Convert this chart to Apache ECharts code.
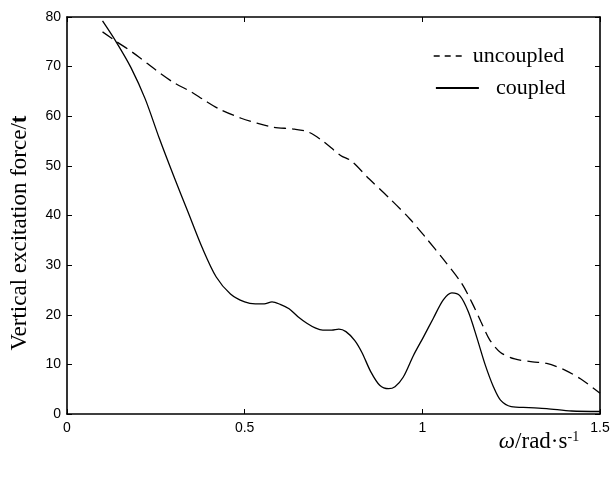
<!DOCTYPE html>
<html>
<head>
<meta charset="utf-8">
<script src="https://cdn.jsdelivr.net/npm/echarts@6/dist/echarts.min.js"></script>
<style>
html,body{margin:0;padding:0;background:#fff;}
#c{width:613px;height:477px;}
</style>
</head>
<body>
<div id="c"></div>
<script>
var xTicks = [0, 0.5, 1, 1.5];
var yTicks = [0, 10, 20, 30, 40, 50, 60, 70, 80];

var uncoupledX = [0.10,0.14,0.17,0.205,0.25,0.30,0.35,0.385,0.43,0.49,0.535,0.58,0.64,0.68,0.72,0.77,0.80,0.85,0.91,0.965,1.01,1.06,1.11,1.14,1.165,1.19,1.22,1.26,1.31,1.35,1.40,1.445,1.5];
var uncoupledY = [77,75,73.6,71.8,69.3,66.8,64.9,63.3,61.4,59.6,58.6,57.8,57.4,56.8,55,52.1,51,47.4,43.3,39.3,35.5,31.1,26.4,22.4,18.6,14.9,12.4,11.1,10.5,10.2,8.9,7.1,4.2];

var coupledX = [0.10,0.14,0.18,0.22,0.26,0.30,0.34,0.38,0.42,0.46,0.50,0.53,0.555,0.577,0.60,0.625,0.65,0.675,0.70,0.72,0.745,0.765,0.785,0.81,0.83,0.855,0.88,0.905,0.923,0.946,0.975,1.003,1.031,1.059,1.083,1.106,1.13,1.153,1.177,1.2,1.22,1.25,1.3,1.35,1.42,1.5];
var coupledY = [79.2,74.8,69.8,63.5,55.5,48,40.8,33.6,27.6,24.2,22.6,22.2,22.2,22.6,22.1,21.2,19.6,18.3,17.3,16.9,16.9,17.1,16.6,14.8,12.4,8.5,5.8,5.1,5.5,7.4,11.8,15.5,19.3,23,24.4,23.8,20.5,15.5,9.9,5.5,2.8,1.5,1.3,1.1,0.6,0.5];

var seriesNames = ['uncoupled', 'coupled'];
var xTitle = 'ω';
var xTitleRest = '/rad·s';
var yTitleMain = 'Vertical excitation force/';
var yTitleUnit = 't';

function pairs(xs, ys) { return xs.map(function (x, i) { return [x, ys[i]]; }); }

var chart = echarts.init(document.getElementById('c'), null, {renderer: 'canvas'});
var axisCommon = {
  min: 0,
  axisLine: {show: true, onZero: false, lineStyle: {color: '#000', width: 1.6}},
  axisTick: {show: true, inside: true, length: 5, lineStyle: {color: '#000', width: 1}},
  splitLine: {show: false}
};
chart.setOption({
  backgroundColor: '#fff',
  animation: false,
  grid: {left: 67, right: 13, top: 17, bottom: 63},
  xAxis: [
    Object.assign({}, axisCommon, {type: 'value', position: 'bottom', max: 1.5, interval: 0.5,
      axisLabel: {color: '#000', fontFamily: 'Liberation Sans', fontSize: 14, margin: 7,
        formatter: function (v) { return xTicks.indexOf(v) >= 0 ? String(v) : ''; }}}),
    Object.assign({}, axisCommon, {type: 'value', position: 'top', max: 1.5, interval: 0.5, axisLabel: {show: false}})
  ],
  yAxis: [
    Object.assign({}, axisCommon, {type: 'value', position: 'left', max: 80, interval: 10,
      axisLabel: {color: '#000', fontFamily: 'Liberation Sans', fontSize: 14, margin: 6,
        formatter: function (v) { return yTicks.indexOf(v) >= 0 ? String(v) : ''; }}}),
    Object.assign({}, axisCommon, {type: 'value', position: 'right', max: 80, interval: 10, axisLabel: {show: false}})
  ],
  legend: [
    {data: [seriesNames[0]], left: 428, top: 40, itemWidth: 32, itemHeight: 10,
      lineStyle: {type: [6, 5], width: 1.4}, itemStyle: {opacity: 0},
      textStyle: {color: '#000', fontFamily: 'Liberation Serif', fontSize: 22, padding: [0, 0, 0, 2]}},
    {data: [seriesNames[1]], left: 430, top: 72, itemWidth: 43, itemHeight: 10,
      lineStyle: {width: 1.8}, itemStyle: {opacity: 0},
      textStyle: {color: '#000', fontFamily: 'Liberation Serif', fontSize: 22, padding: [0, 0, 0, 12]}}
  ],
  graphic: [
    {type: 'text', x: 20, y: 233, rotation: Math.PI / 2,
      style: {text: '{a|' + yTitleMain + '}{b|' + yTitleUnit + '}', align: 'center', verticalAlign: 'middle',
        rich: {a: {fontFamily: 'Liberation Serif', fontSize: 23, fill: '#000'},
               b: {fontFamily: 'Liberation Serif', fontSize: 23, fontWeight: 'bold', fill: '#000'}}}},
    {type: 'text', x: 539, y: 442,
      style: {text: '{w|' + xTitle + '}{r|' + xTitleRest + '}{s|-1}', align: 'center', verticalAlign: 'middle',
        rich: {w: {fontFamily: 'Liberation Serif', fontSize: 23, fontStyle: 'italic', fill: '#000'},
               r: {fontFamily: 'Liberation Serif', fontSize: 23, fill: '#000'},
               s: {fontFamily: 'Liberation Serif', fontSize: 14, fill: '#000', verticalAlign: 'top', padding: [0, 0, 9, 0]}}}}
  ],
  series: [
    {name: seriesNames[0], type: 'line', data: pairs(uncoupledX, uncoupledY), smooth: 0.3, showSymbol: false, symbol: 'none',
      lineStyle: {color: '#000', width: 1.3, type: [12, 6]}, itemStyle: {color: '#000'}},
    {name: seriesNames[1], type: 'line', data: pairs(coupledX, coupledY), smooth: 0.3, showSymbol: false, symbol: 'none',
      lineStyle: {color: '#000', width: 1.3}, itemStyle: {color: '#000'}}
  ]
});
</script>
</body>
</html>
